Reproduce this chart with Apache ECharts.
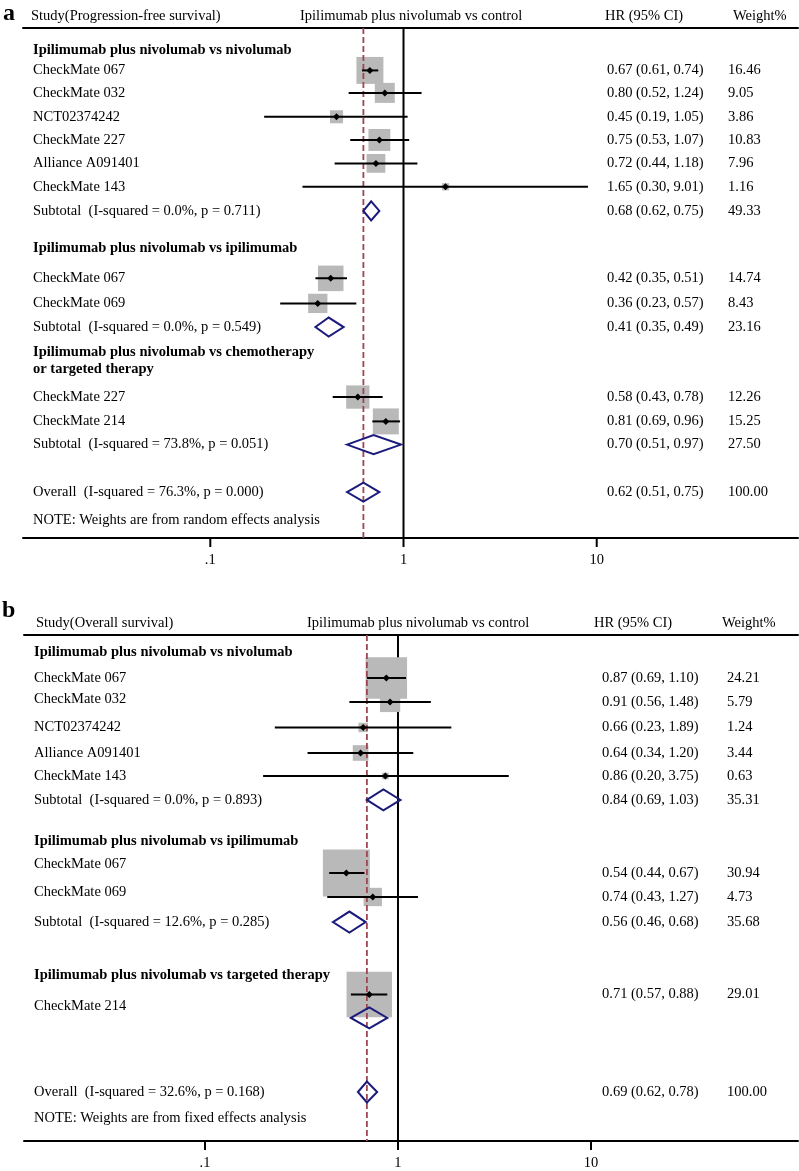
<!DOCTYPE html>
<html><head><meta charset="utf-8">
<script src="https://cdn.jsdelivr.net/npm/echarts@6/dist/echarts.min.js"></script>
<style>html,body{margin:0;padding:0;background:#fff}#chart{width:799px;height:1171px}</style>
</head><body><div id="chart"></div>
<script>
// ---------- shared axis ticks ----------
const tickValues = [0.1, 1, 10];
const tickLabels = ['.1', '1', '10'];

// ---------- Panel a : progression-free survival ----------
const pfsHeaders = ['Study(Progression-free survival)', 'Ipilimumab plus nivolumab vs control', 'HR (95% CI)', 'Weight%'];
const pfsGroups = ['Ipilimumab plus nivolumab vs nivolumab', 'Ipilimumab plus nivolumab vs ipilimumab', 'Ipilimumab plus nivolumab vs chemotherapy\nor targeted therapy'];
const pfsGroupRows = [0.95, 9.49, 14.34];
const pfsStudies = ['CheckMate 067', 'CheckMate 032', 'NCT02374242', 'CheckMate 227', 'Alliance A091401', 'CheckMate 143', 'CheckMate 067', 'CheckMate 069', 'CheckMate 227', 'CheckMate 214'];
const pfsLabelRows = [1.83, 2.80, 3.83, 4.83, 5.84, 6.85, 10.80, 11.88, 15.92, 16.97];
const pfsMarkerRows = [1.83, 2.80, 3.83, 4.83, 5.84, 6.85, 10.80, 11.88, 15.92, 16.97];
const pfsHR = [0.67, 0.80, 0.45, 0.75, 0.72, 1.65, 0.42, 0.36, 0.58, 0.81];
const pfsLower = [0.61, 0.52, 0.19, 0.53, 0.44, 0.30, 0.35, 0.23, 0.43, 0.69];
const pfsUpper = [0.74, 1.24, 1.05, 1.07, 1.18, 9.01, 0.51, 0.57, 0.78, 0.96];
const pfsWeight = [16.46, 9.05, 3.86, 10.83, 7.96, 1.16, 14.74, 8.43, 12.26, 15.25];
const pfsPooledLabels = ['Subtotal  (I-squared = 0.0%, p = 0.711)', 'Subtotal  (I-squared = 0.0%, p = 0.549)', 'Subtotal  (I-squared = 73.8%, p = 0.051)', 'Overall  (I-squared = 76.3%, p = 0.000)'];
const pfsPooledRows = [7.89, 12.90, 17.97, 20.02];
const pfsPooledHR = [0.68, 0.41, 0.70, 0.62];
const pfsPooledLower = [0.62, 0.35, 0.51, 0.51];
const pfsPooledUpper = [0.75, 0.49, 0.97, 0.75];
const pfsPooledWeight = [49.33, 23.16, 27.50, 100.00];
const pfsNote = 'NOTE: Weights are from random effects analysis';
const pfsNoteRow = 21.22;

// ---------- Panel b : overall survival ----------
const osHeaders = ['Study(Overall survival)', 'Ipilimumab plus nivolumab vs control', 'HR (95% CI)', 'Weight%'];
const osGroups = ['Ipilimumab plus nivolumab vs nivolumab', 'Ipilimumab plus nivolumab vs ipilimumab', 'Ipilimumab plus nivolumab vs targeted therapy'];
const osGroupRows = [0.74, 8.96, 14.78];
const osStudies = ['CheckMate 067', 'CheckMate 032', 'NCT02374242', 'Alliance A091401', 'CheckMate 143', 'CheckMate 067', 'CheckMate 069', 'CheckMate 214'];
const osLabelRows = [1.87, 2.78, 4.02, 5.13, 6.13, 9.96, 11.17, 16.13];
const osMarkerRows = [1.87, 2.91, 4.02, 5.13, 6.13, 10.35, 11.39, 15.63];
const osHR = [0.87, 0.91, 0.66, 0.64, 0.86, 0.54, 0.74, 0.71];
const osLower = [0.69, 0.56, 0.23, 0.34, 0.20, 0.44, 0.43, 0.57];
const osUpper = [1.10, 1.48, 1.89, 1.20, 3.75, 0.67, 1.27, 0.88];
const osWeight = [24.21, 5.79, 1.24, 3.44, 0.63, 30.94, 4.73, 29.01];
const osPooledLabels = ['Subtotal  (I-squared = 0.0%, p = 0.893)', 'Subtotal  (I-squared = 12.6%, p = 0.285)', '', 'Overall  (I-squared = 32.6%, p = 0.168)'];
const osPooledRows = [7.17, 12.48, 16.65, 19.87];
const osPooledHR = [0.84, 0.56, 0.71, 0.69];
const osPooledLower = [0.69, 0.46, 0.57, 0.62];
const osPooledUpper = [1.03, 0.68, 0.88, 0.78];
const osPooledWeight = [35.31, 35.68, null, 100.00];
const osNote = 'NOTE: Weights are from fixed effects analysis';
const osNoteRow = 21.0;

// ---------- styling ----------
const FONT = '"Liberation Serif", "Times New Roman", Times, serif';
const FS = 14.5;
const BOX = '#b9b9b9';
const NAVY = '#1b1b7c';
const DASH = '#9c4652';

const panels = [
  { d: { headers: pfsHeaders, groups: pfsGroups, groupRows: pfsGroupRows, studies: pfsStudies, labelRows: pfsLabelRows, markerRows: pfsMarkerRows,
         hr: pfsHR, lower: pfsLower, upper: pfsUpper, weight: pfsWeight, pLabels: pfsPooledLabels, pRows: pfsPooledRows,
         pHR: pfsPooledHR, pLower: pfsPooledLower, pUpper: pfsPooledUpper, pWeight: pfsPooledWeight, note: pfsNote, noteRow: pfsNoteRow },
    L: { left: 23, top: 28, width: 775, height: 510, xMin: 0.01073, xMax: 110.1, yMax: 22, boxScale: 6.65, dHalf: 9.5,
         nameDx: 10, hrDx: 584, wDx: 705, headerDx: [8, 277, 582, 710], headerRow: -0.52, labelMargin: 15 } },
  { d: { headers: osHeaders, groups: osGroups, groupRows: osGroupRows, studies: osStudies, labelRows: osLabelRows, markerRows: osMarkerRows,
         hr: osHR, lower: osLower, upper: osUpper, weight: osWeight, pLabels: osPooledLabels, pRows: osPooledRows,
         pHR: osPooledHR, pLower: osPooledLower, pUpper: osPooledUpper, pWeight: osPooledWeight, note: osNote, noteRow: osNoteRow },
    L: { left: 24, top: 635, width: 774, height: 506, xMin: 0.01154, xMax: 118.2, yMax: 22, boxScale: 8.43, dHalf: 10.5,
         nameDx: 10, hrDx: 578, wDx: 703, headerDx: [12, 283, 570, 698], headerRow: -0.52, labelMargin: 15 } }
];

function fmt(v) { return v.toFixed(2); }
function tickFormatter(v) {
  const i = tickValues.findIndex(t => Math.abs(Math.log10(t) - Math.log10(v)) < 1e-6);
  return i >= 0 ? tickLabels[i] : '';
}

const option = { animation: false, backgroundColor: '#fff', grid: [], xAxis: [], yAxis: [], series: [],
  graphic: [
    { type: 'text', left: 3, top: 2, style: { text: 'a', font: 'bold 24px ' + FONT, fill: '#000' } },
    { type: 'text', left: 2, top: 599, style: { text: 'b', font: 'bold 24px ' + FONT, fill: '#000' } }
  ] };

panels.forEach((P, idx) => {
  const d = P.d, L = P.L;
  const xb = idx * 2;
  option.grid.push({ left: L.left, top: L.top, width: L.width, height: L.height, containLabel: false, outerBoundsMode: 'none' });
  option.xAxis.push({ gridIndex: idx, type: 'log', logBase: 10, min: L.xMin, max: L.xMax, position: 'bottom',
    axisLine: { show: true, onZero: false, lineStyle: { color: '#000', width: 2 } },
    axisTick: { show: false }, minorTick: { show: false }, splitLine: { show: false },
    axisLabel: { show: true, margin: L.labelMargin, color: '#000', fontFamily: FONT, fontSize: FS, showMinLabel: true, showMaxLabel: true, formatter: tickFormatter } });
  option.xAxis.push({ gridIndex: idx, type: 'value', min: 0, max: 1, position: 'top',
    axisLine: { show: true, onZero: false, lineStyle: { color: '#000', width: 2 } },
    axisTick: { show: false }, axisLabel: { show: false }, splitLine: { show: false } });
  option.yAxis.push({ gridIndex: idx, type: 'value', min: 0, max: L.yMax, inverse: true, show: false, splitLine: { show: false } });

  const overall = d.pHR[d.pHR.length - 1];
  const base = { type: 'custom', xAxisIndex: xb, yAxisIndex: idx, silent: true, encode: { x: 0, y: 1 } };
  const vline = (style) => (p, api) => {
    const a = api.coord([api.value(0), 0]);
    const b = api.coord([api.value(0), L.yMax]);
    return { type: 'line', shape: { x1: a[0], y1: a[1], x2: b[0], y2: b[1] }, style: style };
  };
  // reference line at HR = 1
  option.series.push(Object.assign({}, base, { z: 1, data: [[1, 0]],
    renderItem: vline({ stroke: '#000', lineWidth: 2 }) }));
  const studyData = d.hr.map((v, i) => [v, d.markerRows[i], d.lower[i], d.upper[i], d.weight[i]]);
  // weight boxes
  option.series.push(Object.assign({}, base, { z: 2, data: studyData,
    renderItem: (p, api) => {
      const c = api.coord([api.value(0), api.value(1)]);
      const s = L.boxScale * Math.sqrt(api.value(4));
      return { type: 'rect', shape: { x: c[0] - s / 2, y: c[1] - s / 2, width: s, height: s }, style: { fill: BOX } };
    } }));
  // overall effect dashed line
  option.series.push(Object.assign({}, base, { z: 3, data: [[overall, 0]],
    renderItem: vline({ stroke: DASH, lineWidth: 1.8, lineDash: [6, 3] }) }));
  // CI lines + point estimates
  option.series.push(Object.assign({}, base, { z: 4, data: studyData,
    renderItem: (p, api) => {
      const c = api.coord([api.value(0), api.value(1)]);
      const lo = api.coord([api.value(2), api.value(1)]);
      const hi = api.coord([api.value(3), api.value(1)]);
      const r = 3.5;
      return { type: 'group', children: [
        { type: 'line', shape: { x1: lo[0], y1: lo[1], x2: hi[0], y2: hi[1] }, style: { stroke: '#000', lineWidth: 2 } },
        { type: 'polygon', shape: { points: [[c[0] - r, c[1]], [c[0], c[1] - r], [c[0] + r, c[1]], [c[0], c[1] + r]] }, style: { fill: '#000' } }
      ] };
    } }));
  // pooled diamonds
  const pooledData = d.pHR.map((v, i) => [v, d.pRows[i], d.pLower[i], d.pUpper[i]]);
  option.series.push(Object.assign({}, base, { z: 4, data: pooledData,
    renderItem: (p, api) => {
      const c = api.coord([api.value(0), api.value(1)]);
      const lo = api.coord([api.value(2), api.value(1)]);
      const hi = api.coord([api.value(3), api.value(1)]);
      const h = L.dHalf;
      return { type: 'polygon', shape: { points: [[lo[0], lo[1]], [c[0], c[1] - h], [hi[0], hi[1]], [c[0], c[1] + h]] },
        style: { fill: 'none', stroke: NAVY, lineWidth: 2 } };
    } }));
  // axis tick marks
  option.series.push(Object.assign({}, base, { z: 5, data: tickValues.map(v => [v, L.yMax]),
    renderItem: (p, api) => {
      const c = api.coord([api.value(0), api.value(1)]);
      return { type: 'line', shape: { x1: c[0], y1: c[1], x2: c[0], y2: c[1] + 9 }, style: { stroke: '#000', lineWidth: 2 } };
    } }));
  // texts
  const texts = [];
  d.headers.forEach((h, i) => texts.push({ t: h, row: L.headerRow, dx: L.headerDx[i] }));
  d.groups.forEach((g, i) => texts.push({ t: g, row: d.groupRows[i], dx: L.nameDx, bold: true }));
  d.studies.forEach((s, i) => {
    texts.push({ t: s, row: d.labelRows[i], dx: L.nameDx });
    texts.push({ t: fmt(d.hr[i]) + ' (' + fmt(d.lower[i]) + ', ' + fmt(d.upper[i]) + ')', row: d.markerRows[i], dx: L.hrDx });
    texts.push({ t: fmt(d.weight[i]), row: d.markerRows[i], dx: L.wDx });
  });
  d.pLabels.forEach((s, i) => {
    if (s) texts.push({ t: s, row: d.pRows[i], dx: L.nameDx });
    if (d.pWeight[i] != null) {
      texts.push({ t: fmt(d.pHR[i]) + ' (' + fmt(d.pLower[i]) + ', ' + fmt(d.pUpper[i]) + ')', row: d.pRows[i], dx: L.hrDx });
      texts.push({ t: fmt(d.pWeight[i]), row: d.pRows[i], dx: L.wDx });
    }
  });
  texts.push({ t: d.note, row: d.noteRow, dx: L.nameDx });
  option.series.push(Object.assign({}, base, { z: 6, data: texts.map(e => [1, e.row]),
    renderItem: (p, api) => {
      const e = texts[p.dataIndex];
      const y = api.coord([1, api.value(1)])[1];
      return { type: 'text', x: p.coordSys.x + e.dx, y: y,
        style: { text: e.t, font: (e.bold ? 'bold ' : '') + FS + 'px ' + FONT, fill: '#000',
          align: 'left', verticalAlign: 'middle', textAlign: 'left', textVerticalAlign: 'middle', lineHeight: 17 } };
    } }));
});

const chart = echarts.init(document.getElementById('chart'), null, { renderer: 'canvas', width: 799, height: 1171 });
chart.setOption(option);
</script></body></html>
